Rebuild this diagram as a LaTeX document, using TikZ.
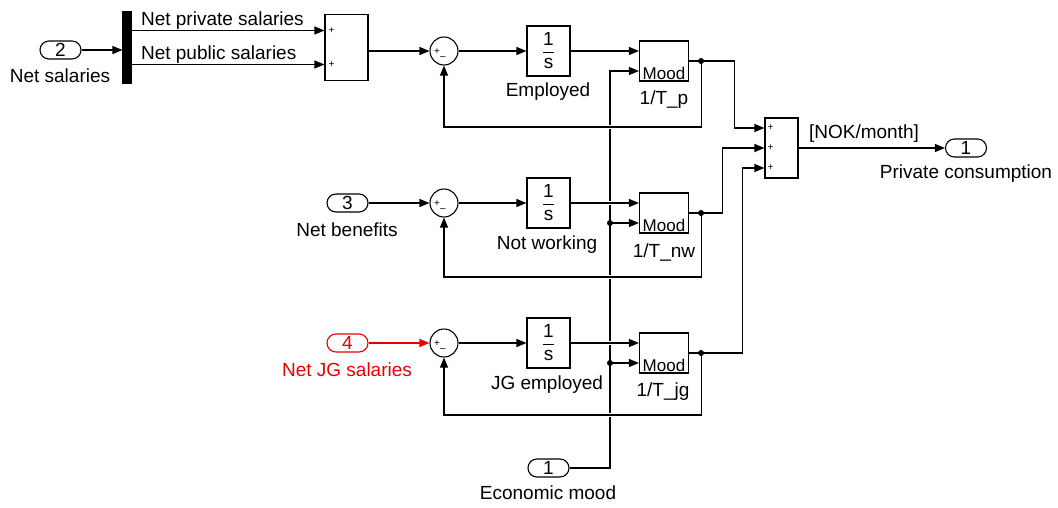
\documentclass[tikz,border=0pt]{standalone}
\usepackage{fontspec}
\setmainfont{Liberation Sans}
\usetikzlibrary{arrows.meta}
\definecolor{jgred}{RGB}{230,0,0}
\begin{document}
\begin{tikzpicture}[x=1pt,y=-1pt,font=\fontsize{19}{22}\selectfont]
\def\intg{1\\[-10pt]\rule[5pt]{11pt}{1.1pt}\\[-11pt]s}
\tikzset{base/.style={draw,inner sep=0pt},txt/.style={inner sep=0pt},
port/.style={base,rounded corners=9pt,minimum width=41pt,minimum height=18pt},
integ/.style={base,minimum width=43pt,minimum height=50pt,align=center},
mood/.style={base,minimum width=49pt,minimum height=40pt,label={[moodtx]south:Mood}},
moodtx/.style={anchor=south,inner sep=1pt,font=\fontsize{17}{17}\selectfont},
summ/.style={base,circle,minimum size=28pt,label={[sgn,xshift=-7pt,yshift=-1pt]center:+},
label={[sgn,xshift=-1pt,yshift=-7pt]center:--}},
sgn/.style={font=\fontsize{10}{10}\selectfont,inner sep=0pt},
hop/.style={preaction={draw=white,line width=4pt,-}},
every path/.style={>={Triangle[length=10pt,width=8pt]},line width=1.1pt}}
\useasboundingbox (0,0) rectangle (1058,507);
\node[port] at (60.5,50) (P2) {2};
\node[txt] at (60,76) (LP2) {Net salaries};
\node[base,fill,minimum width=8pt,minimum height=71pt] at (127,47.5) (DMX) {};
\node[base,minimum width=43pt,minimum height=66pt] at (346.5,47.5) (SUMA) {};
\node[summ] at (444,51) (S1) {};
\node[integ] at (548.5,51) (I1) {\intg};
\node[mood] at (664,61) (M1) {};
\node[txt] at (548,92) (L1) {Employed};
\node[txt] at (664,100) (T1) {1/T\_p};
\node[port] at (347.5,203) (P3) {3};
\node[txt] at (347,230) (LP3) {Net benefits};
\node[summ] at (444,203) (S2) {};
\node[integ] at (548.5,203) (I2) {\intg};
\node[mood] at (664,213) (M2) {};
\node[txt] at (547,245) (L2) {Not working};
\node[txt] at (664,252) (T2) {1/T\_nw};
\node[port,draw=jgred,text=jgred] at (347.5,343) (P4) {4};
\node[txt,text=jgred] at (347,370) (LP4) {Net JG salaries};
\node[summ] at (444,343) (S3) {};
\node[integ] at (548.5,343) (I3) {\intg};
\node[mood] at (664,353) (M3) {};
\node[txt] at (547,385) (L3) {JG employed};
\node[txt] at (663,392) (T3) {1/T\_jg};
\node[port] at (548.5,468) (PM) {1};
\node[txt] at (548,493) (LPM) {Economic mood};
\node[base,minimum width=33pt,minimum height=60pt] at (781.5,148) (SUMB) {};
\node[port] at (966,148) (O1) {1};
\node[txt] at (966,174) (LO1) {Private consumption};
\node[txt] at (864,134) (LNOK) {[NOK/month]};
\coordinate (SA1) at ([yshift=17pt]SUMA.west);
\coordinate (SA2) at ([yshift=-17pt]SUMA.west);
\coordinate (SB1) at ([yshift=20pt]SUMB.west);
\coordinate (SB2) at (SUMB.west);
\coordinate (SB3) at ([yshift=-20pt]SUMB.west);
\coordinate (MB1) at ([yshift=-10pt]M1.west);
\coordinate (MB2) at ([yshift=-10pt]M2.west);
\coordinate (MB3) at ([yshift=-10pt]M3.west);
\coordinate (D1) at ([xshift=12pt]M1.east);
\coordinate (D2) at ([xshift=12pt]M2.east);
\coordinate (D3) at ([xshift=12pt]M3.east);
\coordinate (F1) at (444,127);
\coordinate (F2) at (444,277);
\coordinate (F3) at (444,415);
\coordinate (VX) at (610,468);
\node[sgn] at ([xshift=7pt]SA1) (PA1) {+};
\node[sgn] at ([xshift=7pt]SA2) (PA2) {+};
\node[sgn] at ([xshift=6pt]SB1) (PB1) {+};
\node[sgn] at ([xshift=6pt]SB2) (PB2) {+};
\node[sgn] at ([xshift=6pt]SB3) (PB3) {+};
\draw[->] (P2) -- (P2 -| DMX.west);
\draw[->] (DMX.east |- SA1) node[txt,anchor=base west,xshift=9pt,yshift=5pt] (LPRV) {Net private salaries} -- (SA1);
\draw[->] (DMX.east |- SA2) node[txt,anchor=base west,xshift=9pt,yshift=5pt] (LPUB) {Net public salaries} -- (SA2);
\draw[->] (SUMA.east |- S1) -- (S1);
\draw[->] (P3) -- (S2);
\draw[->,jgred] (P4) -- (S3);
\draw[->] (S1) -- (I1);
\draw[->] (S2) -- (I2);
\draw[->] (S3) -- (I3);
\draw[->] (I1) -- (I1 -| M1.west);
\draw[->] (PM) -- (VX) |- (MB1);
\draw[->] (VX |- MB2) -- (MB2);
\draw[->] (VX |- MB3) -- (MB3);
\draw[->,hop] (I2) -- (I2 -| M2.west);
\draw[->,hop] (I3) -- (I3 -| M3.west);
\draw[->,hop] (D1) |- (F1) -- (S1);
\draw[->,hop] (D2) |- (F2) -- (S2);
\draw[->,hop] (D3) |- (F3) -- (S3);
\draw[->] (M1.east) -| ([xshift=-30pt]SB1) -- (SB1);
\draw[->] (M2.east) -| ([xshift=-42pt]SB2) -- (SB2);
\draw[->] (M3.east) -| ([xshift=-22pt]SB3) -- (SB3);
\draw[->] (SUMB) -- (O1);
\fill (D1) circle (3pt) (D2) circle (3pt) (D3) circle (3pt);
\fill (VX |- MB2) circle (3pt) (VX |- MB3) circle (3pt);
\end{tikzpicture}
\end{document}
